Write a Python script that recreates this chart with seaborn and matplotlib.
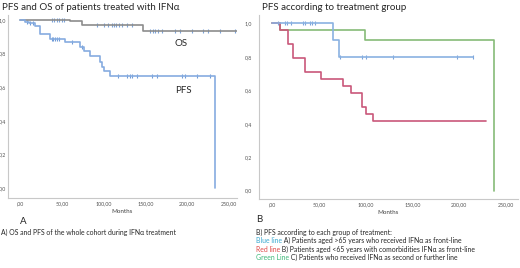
import numpy as np
import pandas as pd
import matplotlib
matplotlib.use('Agg')
import matplotlib.pyplot as plt
import seaborn as sns

# --- data (months, survival) ---
os_t = [0, 60, 74, 147, 262]
os_s = [1.0, 0.993, 0.971, 0.937, 0.937]
os_cens = [38, 41, 44, 47, 50, 53, 92, 100, 105, 110, 112, 115, 118, 122, 128, 134,
           156, 159, 162, 165, 170, 185, 191, 206, 219, 225, 239, 257]

pfs_t = [0, 6, 11, 18, 24, 36, 54, 72, 76, 84, 96, 98, 100, 108, 233]
pfs_s = [1.0, 0.99, 0.985, 0.967, 0.918, 0.888, 0.867, 0.838, 0.818, 0.788,
         0.748, 0.72, 0.694, 0.669, 0.0]
pfs_cens = [8, 12, 15, 38, 40, 42, 44, 47, 62, 74,
            117, 128, 131, 134, 140, 158, 164, 194, 197, 212, 227]

blue_t = [0, 65, 72, 215]
blue_s = [1.0, 0.9, 0.8, 0.8]
blue_cens = [6, 14, 16, 20, 33, 35, 41, 43, 46, 73, 96, 100, 129, 198, 215]

red_t = [0, 8.5, 17.4, 22.8, 35.3, 52, 76, 84, 96, 100, 108, 229]
red_s = [1.0, 0.958, 0.875, 0.792, 0.708, 0.667, 0.625, 0.583, 0.5, 0.458, 0.417, 0.417]

green_t = [0, 8.5, 99, 237]
green_s = [1.0, 0.958, 0.9, 0.0]

x_ticks = [0, 50, 100, 150, 200, 250]
x_labels = [',00', '50,00', '100,00', '150,00', '200,00', '250,00']
y_ticks = [0.0, 0.2, 0.4, 0.6, 0.8, 1.0]
y_labels = ['0,0', '0,2', '0,4', '0,6', '0,8', '1,0']

sns.set_style('white')
plt.rcParams['font.family'] = ['Lato', 'DejaVu Sans']

W, H = 520, 268
fig = plt.figure(figsize=(W / 100, H / 100), dpi=100)


def px_axes(x0, y_top, x1, y_bot):
    return fig.add_axes([x0 / W, 1 - y_bot / H, (x1 - x0) / W, (y_bot - y_top) / H])


def step_curve(ax, t, s, color, lw=1.2):
    df = pd.DataFrame({'t': t, 's': s})
    sns.lineplot(data=df, x='t', y='s', ax=ax, color=color, lw=lw,
                 drawstyle='steps-post', estimator=None, sort=False)


def censor(ax, t, s, cens, color):
    idx = np.searchsorted(t, cens, side='right') - 1
    df = pd.DataFrame({'t': cens, 's': np.array(s)[idx]})
    sns.scatterplot(data=df, x='t', y='s', ax=ax, marker='|', color=color,
                    s=12, linewidth=0.8)


def style_axes(ax, xlim, ylim, ypad):
    ax.set_xlim(*xlim)
    ax.set_ylim(*ylim)
    ax.set_xticks(x_ticks)
    ax.set_xticklabels(x_labels)
    ax.set_yticks(y_ticks)
    ax.set_yticklabels(y_labels)
    ax.tick_params(length=0, labelsize=3.8, labelcolor='#555555')
    ax.tick_params(axis='x', pad=2)
    ax.tick_params(axis='y', pad=ypad)
    for side in ['top', 'right']:
        ax.spines[side].set_visible(False)
    for side in ['left', 'bottom']:
        ax.spines[side].set_color('#c8c8c8')
        ax.spines[side].set_linewidth(0.8)
    ax.set_xlabel('Months', fontsize=4.5, color='#444444', labelpad=2)
    ax.set_ylabel('')
    ax.grid(False)
    ax.patch.set_alpha(0)


# panel A
ax1 = px_axes(8, 15, 237, 198)
step_curve(ax1, os_t, os_s, '#8c8c8c')
censor(ax1, os_t, os_s, os_cens, '#7aa3da')
step_curve(ax1, pfs_t, pfs_s, '#86ace0')
censor(ax1, pfs_t, pfs_s, pfs_cens, '#6f9bd8')
style_axes(ax1, (-14.4, 259.6), (-0.06, 1.03), 1.5)
ax1.text(185, 0.86, 'OS', fontsize=7, va='center')
ax1.text(186, 0.58, 'PFS', fontsize=7, va='center')

# panel B
ax2 = px_axes(259, 15, 518, 199)
step_curve(ax2, green_t, green_s, '#86bb78')
step_curve(ax2, red_t, red_s, '#c9587a')
step_curve(ax2, blue_t, blue_s, '#8ab2e2')
censor(ax2, blue_t, blue_s, blue_cens, '#7aa3da')
style_axes(ax2, (-13.9, 262.8), (-0.05, 1.05), 5)

# titles and captions
fig.text(2 / W, 1 - 8 / H, 'PFS and OS of patients treated with IFNα',
         fontsize=7, va='center', ha='left')
fig.text(262 / W, 1 - 8 / H, 'PFS according to treatment group',
         fontsize=7, va='center', ha='left')
fig.text(20 / W, 1 - 221 / H, 'A', fontsize=7, va='center')
fig.text(1 / W, 1 - 232 / H, 'A) OS and PFS of the whole cohort during IFNα treatment',
         fontsize=4.95, va='center')
fig.text(256 / W, 1 - 219 / H, 'B', fontsize=7, va='center')
fig.text(256 / W, 1 - 232 / H, 'B) PFS according to each group of treatment:',
         fontsize=4.95, va='center')

caption_lines = [
    ('Blue line', '#3aa9d0', ' A) Patients aged >65 years who received IFNα as front-line', 240.5),
    ('Red line', '#e04848', ' B) Patients aged <65 years with comorbidities IFNα as front-line', 249),
    ('Green Line', '#3cb878', ' C) Patients who received IFNα as second or further line', 257.5),
]
fig.canvas.draw()
renderer = fig.canvas.get_renderer()
for word, col, rest, ypx in caption_lines:
    t = fig.text(256 / W, 1 - ypx / H, word, color=col, fontsize=4.95, va='center')
    bb = t.get_window_extent(renderer)
    fig.text(bb.x1 / W, 1 - ypx / H, rest, fontsize=4.95, va='center')

fig.savefig('out.png', dpi=100)
